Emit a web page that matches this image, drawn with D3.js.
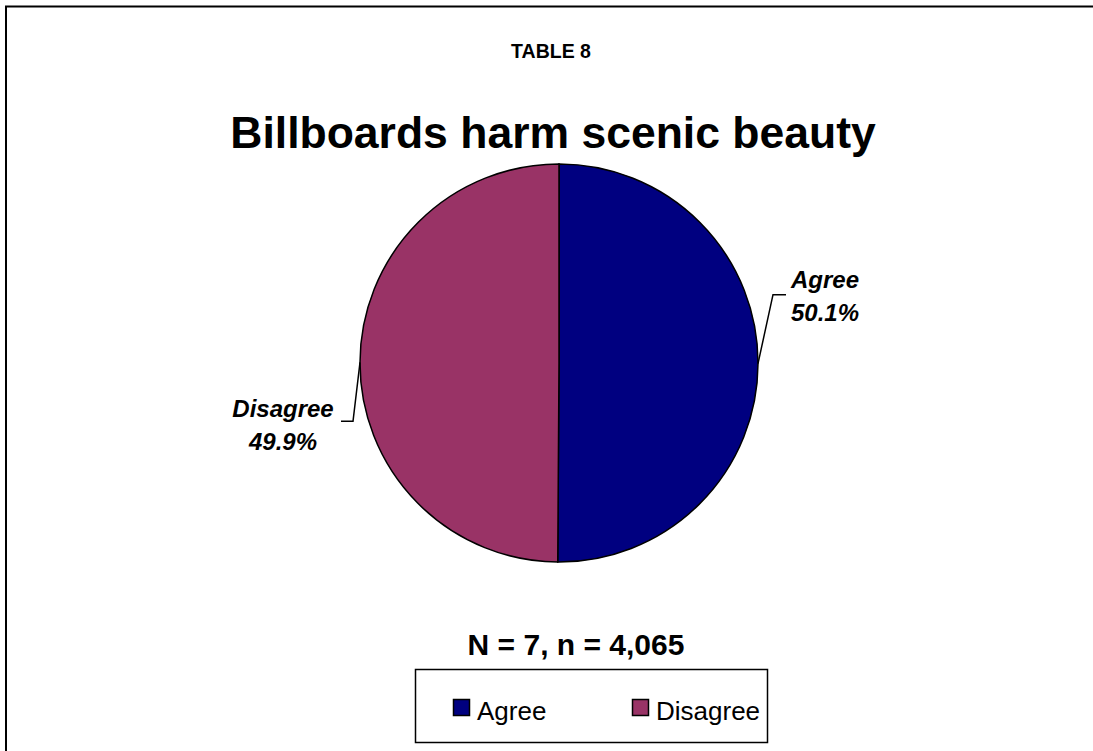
<!DOCTYPE html>
<html>
<head>
<meta charset="utf-8">
<script src="https://cdn.jsdelivr.net/npm/d3@7"></script>
<style>
  body { margin: 0; background: #fff; }
  svg { display: block; font-family: Arial, "Liberation Sans", sans-serif; }
</style>
</head>
<body>
<svg width="1093" height="751"></svg>
<script>
var categories = ["Agree", "Disagree"];
var values = [50.1, 49.9];
var colors = ["#000080", "#993366"];
var title = "Billboards harm scenic beauty";
var tableLabel = "TABLE 8";
var footnote = "N = 7, n = 4,065";

var svg = d3.select("svg");

// outer frame (right & bottom run off the page)
svg.append("rect")
  .attr("x", 6).attr("y", 6.5)
  .attr("width", 1200).attr("height", 900)
  .attr("fill", "none").attr("stroke", "#000").attr("stroke-width", 2);

svg.append("text")
  .attr("x", 551).attr("y", 58)
  .attr("text-anchor", "middle")
  .attr("font-size", 19.5).attr("font-weight", "bold")
  .text(tableLabel);

svg.append("text")
  .attr("x", 553).attr("y", 148)
  .attr("text-anchor", "middle")
  .attr("font-size", 44.5).attr("font-weight", "bold")
  .text(title);

var cx = 559, cy = 363, r = 199;

var data = categories.map(function(c, i) { return {name: c, value: values[i], color: colors[i]}; });

var pie = d3.pie().sort(null).value(function(d) { return d.value; });
var arc = d3.arc().innerRadius(0).outerRadius(r);

var g = svg.append("g").attr("transform", "translate(" + cx + "," + cy + ")");

var arcs = pie(data);

g.selectAll("path.slice")
  .data(arcs)
  .enter().append("path")
    .attr("class", "slice")
    .attr("d", arc)
    .attr("fill", function(d) { return d.data.color; })
    .attr("stroke", "#000")
    .attr("stroke-width", 1.5);

// leader lines + labels (offsets are layout, relative to slice edge / centre)
var labelLayout = [
  {elbow: [15, -69], end: 13, tx: 266, ty: -75},
  {elbow: [-7, 59], end: -12, tx: -276, ty: 54}
];

arcs.forEach(function(d, i) {
  var mid = (d.startAngle + d.endAngle) / 2;
  var p0 = [Math.sin(mid) * r, -Math.cos(mid) * r];
  var L = labelLayout[i];
  var p1 = [p0[0] + L.elbow[0], p0[1] + L.elbow[1]];
  var p2 = [p1[0] + L.end, p1[1]];
  g.append("polyline")
    .attr("points", [p0, p1, p2].map(function(p) { return p.join(","); }).join(" "))
    .attr("fill", "none").attr("stroke", "#000").attr("stroke-width", 1.5);

  var t = g.append("text")
    .attr("text-anchor", "middle")
    .attr("font-size", 24).attr("font-weight", "bold").attr("font-style", "italic")
    .attr("x", L.tx).attr("y", L.ty);
  t.append("tspan").attr("x", L.tx).attr("dy", 0).text(d.data.name);
  t.append("tspan").attr("x", L.tx).attr("dy", 33).text(d3.format(".1f")(d.data.value) + "%");
});

svg.append("text")
  .attr("x", 576).attr("y", 655)
  .attr("text-anchor", "middle")
  .attr("font-size", 30).attr("font-weight", "bold")
  .text(footnote);

// legend
var legend = svg.append("g");
legend.append("rect")
  .attr("x", 415.5).attr("y", 669.5)
  .attr("width", 352).attr("height", 73)
  .attr("fill", "#fff").attr("stroke", "#000").attr("stroke-width", 1.5);

var legendX = d3.scalePoint().domain(categories).range([453, 632]);

var items = legend.selectAll("g.item")
  .data(data)
  .enter().append("g")
    .attr("class", "item")
    .attr("transform", function(d) { return "translate(" + legendX(d.name) + ",699)"; });

items.append("rect")
  .attr("x", 0.5).attr("y", 0.5)
  .attr("width", 16).attr("height", 16)
  .attr("fill", function(d) { return d.color; })
  .attr("stroke", "#000").attr("stroke-width", 1.5);

items.append("text")
  .attr("x", 24).attr("y", 21)
  .attr("font-size", 26)
  .text(function(d) { return d.name; });
</script>
</body>
</html>
